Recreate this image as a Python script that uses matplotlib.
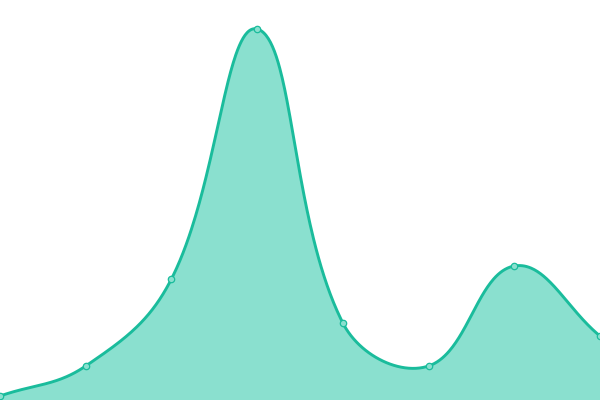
import numpy as np
import matplotlib
matplotlib.use("Agg")
import matplotlib.pyplot as plt

# Data (index positions 0..7, values on a 0..400 scale)
x_vals = [0, 1, 2, 3, 4, 5, 6, 7]
y_vals = [4, 34, 121, 371, 77, 34, 134, 64]

LINE = "#1abc9c"
FILL = "#8ae0cf"
TENSION = 0.4


def spline_curve(ax, xs, ys, tension=0.4, n=80):
    """Chart.js-style spline (distance-weighted control points in pixel space)."""
    pts = ax.transData.transform(np.column_stack([xs, ys]))
    m = len(pts)
    prev_cp = np.zeros_like(pts)
    next_cp = np.zeros_like(pts)
    for i in range(m):
        p0 = pts[max(i - 1, 0)]
        p1 = pts[i]
        p2 = pts[min(i + 1, m - 1)]
        d01 = np.hypot(*(p1 - p0))
        d12 = np.hypot(*(p2 - p1))
        tot = d01 + d12
        s01 = d01 / tot if tot else 0.0
        s12 = d12 / tot if tot else 0.0
        fa = tension * s01
        fb = tension * s12
        prev_cp[i] = p1 - fa * (p2 - p0)
        next_cp[i] = p1 + fb * (p2 - p0)
    t = np.linspace(0, 1, n)[:, None]
    out = []
    for i in range(m - 1):
        a, b, c, d = pts[i], next_cp[i], prev_cp[i + 1], pts[i + 1]
        seg = (1 - t) ** 3 * a + 3 * (1 - t) ** 2 * t * b + 3 * (1 - t) * t ** 2 * c + t ** 3 * d
        out.append(seg if i == 0 else seg[1:])
    out = np.vstack(out)
    data = ax.transData.inverted().transform(out)
    return data[:, 0], data[:, 1]


fig = plt.figure(figsize=(6, 4), dpi=100)
ax = fig.add_axes([0, 0, 1, 1])
ax.set_xlim(0, 7)
ax.set_ylim(0, 400)
ax.axis("off")
cx, cy = spline_curve(ax, x_vals, y_vals, TENSION)
ax.fill_between(cx, cy, 0, color=FILL, lw=0)
ax.plot(cx, cy, color=LINE, lw=2.1, solid_capstyle="round")
ax.plot(x_vals, y_vals, "o", ms=4.6, mfc=FILL, mec=LINE, mew=0.9, clip_on=False)
fig.savefig("out.png", dpi=100)
